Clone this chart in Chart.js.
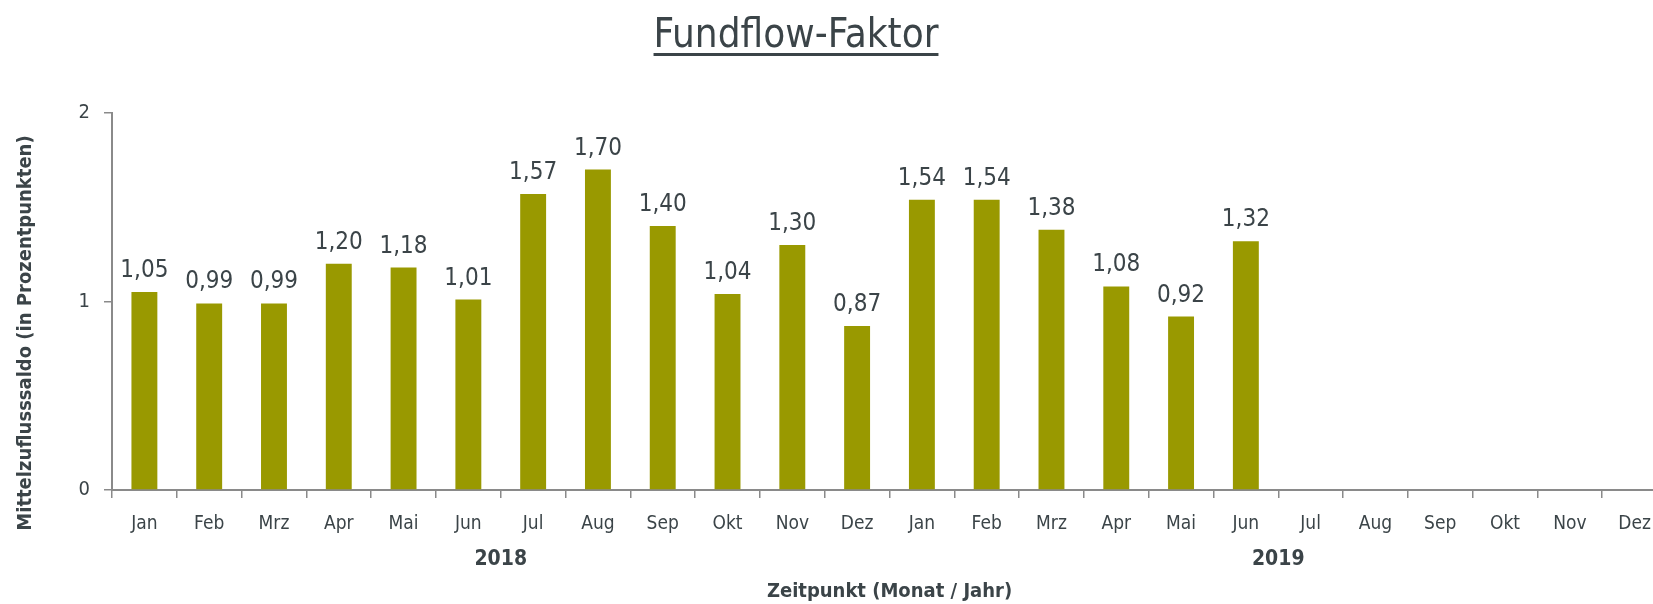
<!DOCTYPE html>
<html>
<head>
<meta charset="utf-8">
<script src="https://cdn.jsdelivr.net/npm/chart.js@4/dist/chart.umd.min.js"></script>
<style>
  html, body { margin: 0; padding: 0; background: #fff; overflow: hidden; }
  #wrap { position: relative; width: 1670px; height: 604px; }
  #title {
    position: absolute; top: 9px; left: 0; width: 1592px; text-align: center;
    font-family: 'Liberation Sans Narrow', 'DejaVu Sans Condensed', sans-serif;
    font-size: 40px; line-height: 48px; color: #3b4448;
    text-decoration: underline; text-decoration-thickness: 3px; text-underline-offset: 6px;
  }
</style>
</head>
<body>
<div id="wrap">
  <div id="title">Fundflow-Faktor</div>
  <canvas id="myChart"></canvas>
</div>
<script>
 var months = ["Jan","Feb","Mrz","Apr","Mai","Jun","Jul","Aug","Sep","Okt","Nov","Dez",
               "Jan","Feb","Mrz","Apr","Mai","Jun","Jul","Aug","Sep","Okt","Nov","Dez"];
 var years = ["2018","2019"];
 var values = [1.05,0.99,0.99,1.20,1.18,1.01,1.57,1.70,1.40,1.04,1.30,0.87,
               1.54,1.54,1.38,1.08,0.92,1.32,null,null,null,null,null,null];
 var yTicks = [0, 1, 2];

 var FONT = "'Liberation Sans Narrow', 'DejaVu Sans Condensed', sans-serif";
 var TXT = '#3b4448';
 var AXIS = '#8a8a8a';

 // value labels above bars
 var barLabels = {
   id: 'barLabels',
   afterDatasetsDraw: function(chart) {
     var c = chart.ctx;
     var meta = chart.getDatasetMeta(0);
     c.save();
     c.font = '24px ' + FONT;
     c.fillStyle = TXT;
     c.textAlign = 'center';
     c.textBaseline = 'alphabetic';
     meta.data.forEach(function(el, i) {
       var v = values[i];
       if (v == null) return;
       c.fillText(v.toFixed(2).replace('.', ','), el.x, el.y - 15);
     });
     c.restore();
   }
 };

 // y axis title
 var yTitle = {
   id: 'yTitle',
   afterDraw: function(chart) {
     var c = chart.ctx;
     c.save();
     c.translate(26, 333);
     c.rotate(-Math.PI / 2);
     c.font = 'bold 20px ' + FONT;
     c.fillStyle = TXT;
     c.textAlign = 'center';
     c.textBaseline = 'middle';
     c.fillText('Mittelzuflusssaldo (in Prozentpunkten)', 0, 0);
     c.restore();
   }
 };

 var ctx = document.getElementById("myChart").getContext('2d');
 var myChart = new Chart(ctx, {
   type: 'bar',
   data: {
     labels: months,
     datasets: [{
       label: "Fundflow-Faktor",
       data: values,
       backgroundColor: '#999900',
       barPercentage: 0.4,
       categoryPercentage: 1.0
     }]
   },
   plugins: [barLabels, yTitle],
   options: {
     responsive: true,
     maintainAspectRatio: false,
     animation: false,
     layout: { padding: { top: 113, right: 3, left: 0, bottom: 0 } },
     plugins: {
       legend: { display: false },
       tooltip: { enabled: false }
     },
     scales: {
       x: {
         position: 'bottom',
         afterFit: function(scale) { scale.height = 52; },
         ticks: {
           color: TXT,
           padding: 15,
           maxRotation: 0,
           autoSkip: false,
           font: { family: FONT, size: 19 }
         },
         grid: {
           offset: true,
           drawOnChartArea: false,
           drawTicks: true,
           tickLength: 8,
           color: AXIS,
           lineWidth: 1.5
         },
         border: { color: AXIS, width: 2 }
       },
       x2: {
         type: 'category',
         position: 'bottom',
         labels: years,
         offset: true,
         afterFit: function(scale) { scale.height = 62; },
         ticks: {
           color: TXT,
           padding: 5,
           maxRotation: 0,
           font: { family: FONT, size: 21, weight: 'bold' }
         },
         grid: { display: false, drawTicks: false },
         border: { display: false },
         title: {
           display: true,
           text: 'Zeitpunkt (Monat / Jahr)',
           color: TXT,
           padding: { top: 10, bottom: 0 },
           font: { family: FONT, size: 20, weight: 'bold' }
         }
       },
       y: {
         min: 0,
         max: 2,
         afterFit: function(scale) { scale.width = 112; },
         afterBuildTicks: function(scale) {
           scale.ticks = yTicks.map(function(v) { return { value: v }; });
         },
         ticks: {
           color: TXT,
           padding: 14,
           font: { family: FONT, size: 20 }
         },
         grid: {
           drawOnChartArea: false,
           drawTicks: true,
           tickLength: 8,
           color: AXIS,
           lineWidth: 1.5
         },
         border: { color: AXIS, width: 2 }
       }
     }
   }
 });
</script>
</body>
</html>
